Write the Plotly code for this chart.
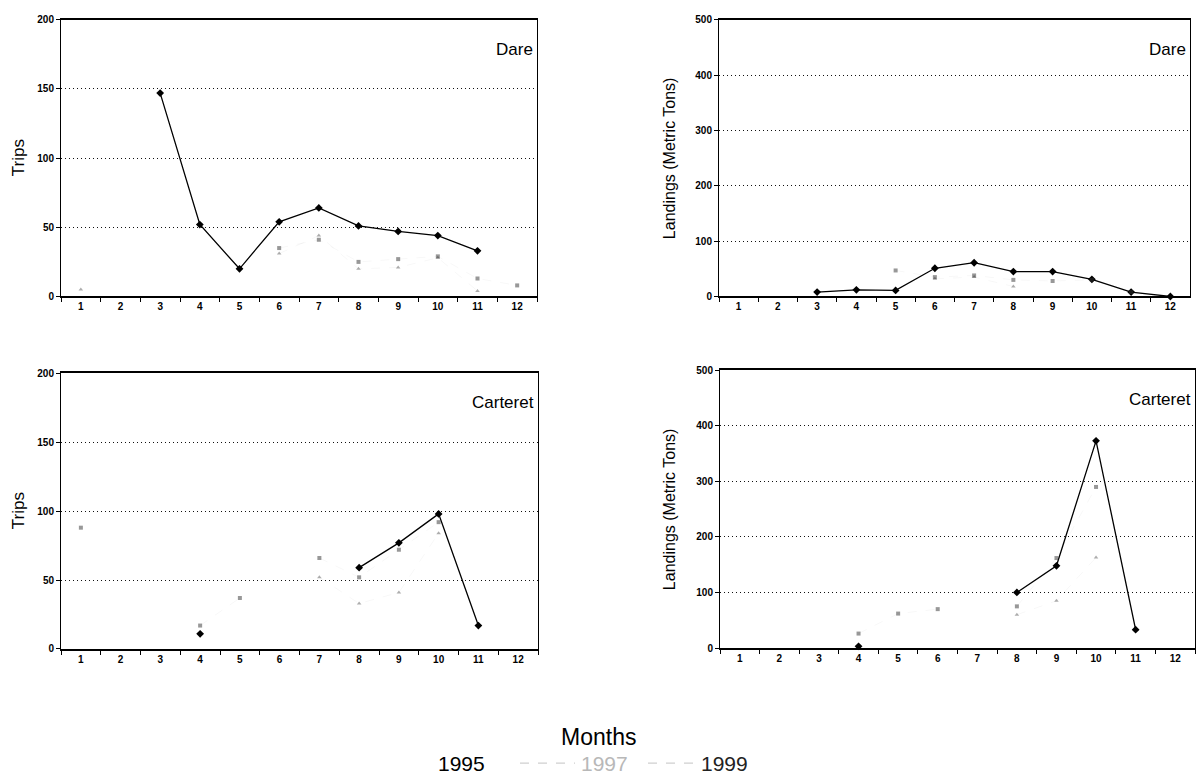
import plotly.graph_objects as go

W, H = 1197, 783

month_labels = [str(m) for m in range(1, 13)]
years = ["1995", "1997", "1999"]

# Dare County - trips per month
dare_trips_1995 = [None, None, 147, 52, 20, 54, 64, 51, 47, 44, 33, None]
dare_trips_1997 = [None, None, None, None, None, 35, 41, 25, 27, 29, 13, 8]
dare_trips_1999 = [5, None, None, None, None, 31, 44, 20, 21, 28, 4, None]

# Dare County - landings (metric tons)
dare_land_1995 = [None, None, 8, 12, 11, 51, 61, 45, 45, 31, 8, 0]
dare_land_1997 = [None, None, None, None, 47, 35, 38, 30, 28, 30, 8, None]
dare_land_1999 = [None, None, None, None, None, 32, 35, 18, None, None, None, None]

# Carteret County - trips per month
cart_trips_1995 = [None, None, None, 11, None, None, None, 59, 77, 98, 17, None]
cart_trips_1997 = [88, None, None, 17, 37, None, 66, 52, 72, 92, None, None]
cart_trips_1999 = [None, None, None, None, None, None, 52, 33, 41, 84, None, None]

# Carteret County - landings (metric tons)
cart_land_1995 = [None, None, None, 3, None, None, None, 100, 148, 373, 33, None]
cart_land_1997 = [None, None, None, 26, 62, 70, None, 75, 162, 290, None, None]
cart_land_1999 = [None, None, None, None, None, None, None, 60, 85, 163, None, None]

panels = [
    # (series, ymax, dtick, county, y title, plot-area box in px: x0, x1, top, bottom)
    ([dare_trips_1995, dare_trips_1997, dare_trips_1999], 200, 50, "Dare", "Trips", (61, 537, 14, 295)),
    ([dare_land_1995, dare_land_1997, dare_land_1999], 500, 100, "Dare", "Landings (Metric Tons)", (719, 1190, 14, 295)),
    ([cart_trips_1995, cart_trips_1997, cart_trips_1999], 200, 50, "Carteret", "Trips", (61, 538, 373, 653)),
    ([cart_land_1995, cart_land_1997, cart_land_1999], 500, 100, "Carteret", "Landings (Metric Tons)", (720, 1195, 370, 652)),
]

styles = {
    "1995": dict(line=dict(color="black", width=1.3), marker=dict(symbol="diamond", size=6, color="black")),
    "1997": dict(line=dict(color="rgba(0,0,0,0.03)", width=1, dash="dash"),
                 marker=dict(symbol="square", size=4, color="rgba(50,50,50,0.5)")),
    "1999": dict(line=dict(color="rgba(0,0,0,0.03)", width=1, dash="dash"),
                 marker=dict(symbol="triangle-up", size=4, color="rgba(50,50,50,0.4)")),
}

fig = go.Figure()
annotations = []

tick_font = dict(family="Liberation Sans", size=10, color="black", weight="bold")

for i, (series, ymax, dtick, county, ytitle, box) in enumerate(panels, start=1):
    x0, x1, y0, y1 = box
    xa = "x" if i == 1 else f"x{i}"
    ya = "y" if i == 1 else f"y{i}"
    for year, vals in zip(years, series):
        st = styles[year]
        fig.add_trace(go.Scatter(
            x=month_labels, y=vals, mode="lines+markers", name=year,
            line=st["line"], marker=st["marker"], showlegend=False,
            xaxis=xa, yaxis=ya, connectgaps=False, cliponaxis=False,
        ))
    xkey = "xaxis" if i == 1 else f"xaxis{i}"
    ykey = "yaxis" if i == 1 else f"yaxis{i}"
    fig.layout[xkey] = dict(
        domain=[x0 / W, x1 / W], anchor=ya, type="category",
        categoryorder="array", categoryarray=month_labels,
        range=[-0.5, 11.5],
        showline=True, linecolor="black", linewidth=1.5, mirror=True,
        ticks="outside", tickson="boundaries", ticklen=4, tickcolor="black",
        tickfont=tick_font, showgrid=False, fixedrange=True,
    )
    fig.layout[ykey] = dict(
        domain=[1 - y1 / H, 1 - y0 / H], anchor=xa,
        range=[0, ymax], dtick=dtick, tick0=0,
        showline=True, linecolor="black", linewidth=1, mirror=True,
        ticks="outside", ticklen=4, tickcolor="black",
        tickfont=tick_font, showgrid=True, gridcolor="#111111",
        griddash="1.3px,2.7px", gridwidth=1.3, zeroline=False, fixedrange=True,
    )
    # county label inside the upper right corner
    annotations.append(dict(
        x=(x1 - 2) / W, y=1 - (y0 + 30) / H, xref="paper", yref="paper",
        text=county, showarrow=False, xanchor="right", yanchor="middle",
        font=dict(family="Liberation Sans", size=17, color="black"),
    ))
    # y axis title
    tx = 18 if x0 < 300 else 669
    annotations.append(dict(
        x=tx / W, y=1 - ((y0 + y1) / 2) / H, xref="paper", yref="paper",
        text=ytitle, showarrow=False, textangle=-90,
        xanchor="center", yanchor="middle",
        font=dict(family="Liberation Sans", size=17 if ytitle == "Trips" else 16, color="black"),
    ))

# shared x title and the year key below the panels
annotations.append(dict(
    x=598 / W, y=1 - 742 / H, xref="paper", yref="paper", text="Months",
    showarrow=False, xanchor="center", yanchor="middle",
    font=dict(family="Liberation Sans", size=23, color="black"),
))
key_y = 1 - 769 / H
key_items = [("1995", 461, "black"), ("1997", 604, "#b8b8b8"), ("1999", 724, "#222222")]
for label, cx, col in key_items:
    annotations.append(dict(
        x=cx / W, y=key_y, xref="paper", yref="paper", text=label,
        showarrow=False, xanchor="center", yanchor="middle",
        font=dict(family="Liberation Sans", size=21, color=col),
    ))

shapes = [
    dict(type="line", xref="paper", yref="paper", x0=520 / W, x1=575 / W, y0=key_y, y1=key_y,
         line=dict(color="#d0d0d0", width=1.2, dash="dash")),
    dict(type="line", xref="paper", yref="paper", x0=648 / W, x1=696 / W, y0=key_y, y1=key_y,
         line=dict(color="#d0d0d0", width=1.2, dash="dash")),
]

fig.update_layout(
    width=W, height=H,
    margin=dict(l=0, r=0, t=0, b=0),
    paper_bgcolor="white", plot_bgcolor="white",
    showlegend=False,
    annotations=annotations,
    shapes=shapes,
    font=dict(family="Liberation Sans", color="black"),
)

fig.write_html("out.html")
